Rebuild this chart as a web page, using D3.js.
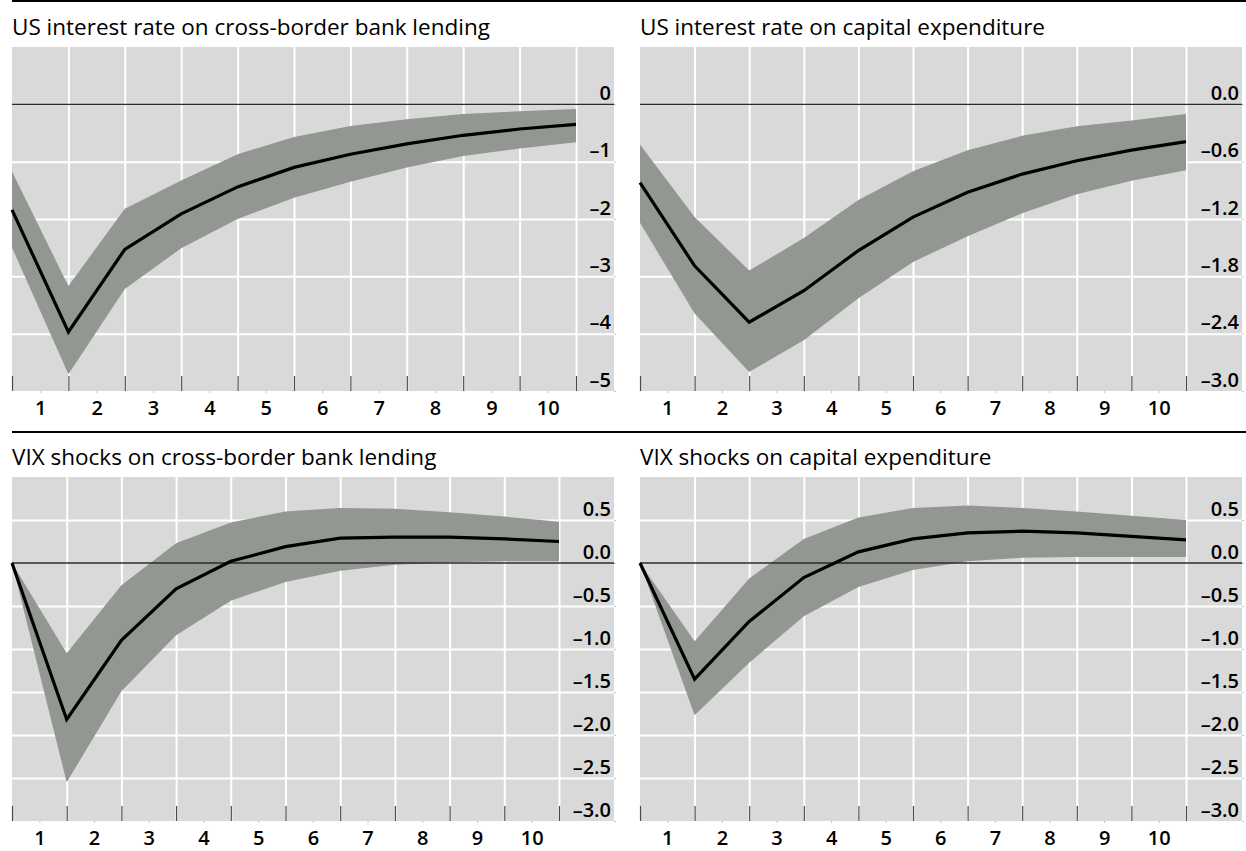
<!DOCTYPE html>
<html>
<head>
<meta charset="utf-8">
<script src="https://cdn.jsdelivr.net/npm/d3@7"></script>
<style>
  body { margin: 0; background: #fff; }
  svg { display: block; font-family: "Open Sans", "Noto Sans", sans-serif; }
</style>
</head>
<body>
<svg id="chart" width="1246" height="851"></svg>
<script>
// horizon steps (0..10) and the period labels shown between them
var steps = d3.range(0, 11);
var periodLabels = ["1", "2", "3", "4", "5", "6", "7", "8", "9", "10"];

var titles = [
  "US interest rate on cross-border bank lending",
  "US interest rate on capital expenditure",
  "VIX shocks on cross-border bank lending",
  "VIX shocks on capital expenditure"
];

// impulse responses, point estimate and confidence band
var rateBankMid = [-1.84, -3.97, -2.53, -1.91, -1.44, -1.10, -0.87, -0.69, -0.54, -0.43, -0.35];
var rateBankHi  = [-1.17, -3.17, -1.82, -1.33, -0.87, -0.57, -0.38, -0.26, -0.17, -0.12, -0.08];
var rateBankLo  = [-2.50, -4.71, -3.22, -2.51, -2.00, -1.63, -1.35, -1.10, -0.90, -0.77, -0.66];

var rateCapexMid = [-0.82, -1.69, -2.28, -1.95, -1.53, -1.18, -0.92, -0.73, -0.59, -0.48, -0.39];
var rateCapexHi  = [-0.42, -1.18, -1.74, -1.40, -1.00, -0.70, -0.48, -0.33, -0.23, -0.17, -0.10];
var rateCapexLo  = [-1.24, -2.19, -2.80, -2.47, -2.03, -1.65, -1.38, -1.14, -0.94, -0.80, -0.69];

var vixBankMid = [0, -1.82, -0.90, -0.30, 0.02, 0.19, 0.29, 0.30, 0.30, 0.28, 0.25];
var vixBankHi  = [0, -1.05, -0.26, 0.23, 0.47, 0.60, 0.64, 0.63, 0.59, 0.54, 0.48];
var vixBankLo  = [0, -2.55, -1.49, -0.84, -0.44, -0.22, -0.09, -0.02, 0.01, 0.02, 0.02];

var vixCapexMid = [0, -1.35, -0.68, -0.17, 0.13, 0.28, 0.35, 0.37, 0.35, 0.31, 0.27];
var vixCapexHi  = [0, -0.91, -0.18, 0.28, 0.53, 0.64, 0.67, 0.64, 0.60, 0.55, 0.50];
var vixCapexLo  = [0, -1.77, -1.16, -0.62, -0.28, -0.08, 0.02, 0.06, 0.07, 0.07, 0.07];

var rateBankTicks  = [0, -1, -2, -3, -4, -5];
var rateCapexTicks = [0, -0.6, -1.2, -1.8, -2.4, -3.0];
var vixTicks       = [0.5, 0, -0.5, -1.0, -1.5, -2.0, -2.5, -3.0];

var rateBankDomain  = [-5, 1];
var rateCapexDomain = [-3, 0.6];
var vixDomain       = [-3, 1];

var panels = [
  { title: titles[0], mid: rateBankMid, hi: rateBankHi, lo: rateBankLo, ticks: rateBankTicks, domain: rateBankDomain, dec: 0, left: 12, top: 47, gutter: 38 },
  { title: titles[1], mid: rateCapexMid, hi: rateCapexHi, lo: rateCapexLo, ticks: rateCapexTicks, domain: rateCapexDomain, dec: 1, left: 640, top: 47, gutter: 56 },
  { title: titles[2], mid: vixBankMid, hi: vixBankHi, lo: vixBankLo, ticks: vixTicks, domain: vixDomain, dec: 1, left: 12, top: 477, gutter: 55 },
  { title: titles[3], mid: vixCapexMid, hi: vixCapexHi, lo: vixCapexLo, ticks: vixTicks, domain: vixDomain, dec: 1, left: 640, top: 477, gutter: 56 }
];

var plotW = 602, plotH = 344;
var svg = d3.select("#chart");

var fmtNum = function(v, dec){
  var s = d3.format("." + dec + "f")(Math.abs(v));
  return v < 0 ? "\u2013" + s : s;
};

// rules above each row of panels
[1, 432].forEach(function(yy){
  svg.append("line")
    .attr("x1", 12).attr("x2", 1246)
    .attr("y1", yy).attr("y2", yy)
    .attr("stroke", "#000").attr("stroke-width", 2);
});

panels.forEach(function(p){
  var right = p.left + plotW, bottom = p.top + plotH;
  var x = d3.scaleLinear().domain([0, 10]).range([p.left, right - p.gutter]);
  var y = d3.scaleLinear().domain(p.domain).range([bottom, p.top]);
  var g = svg.append("g");

  g.append("text")
    .attr("x", p.left).attr("y", p.top - 12)
    .attr("font-size", 22.5).attr("fill", "#000")
    .text(p.title);

  g.append("rect")
    .attr("x", p.left).attr("y", p.top)
    .attr("width", plotW).attr("height", plotH)
    .attr("fill", "#d9d9d9");

  // vertical grid
  g.append("g")
    .attr("transform", "translate(0," + bottom + ")")
    .call(d3.axisBottom(x).tickValues(d3.range(1, 11)).tickSize(-plotH).tickFormat(""))
    .call(function(a){ a.select(".domain").remove(); })
    .selectAll("line").attr("stroke", "#fff").attr("stroke-width", 2);

  // horizontal grid
  var gridVals = p.ticks.filter(function(v){ return v !== 0 && v !== p.domain[0]; });
  g.append("g")
    .attr("transform", "translate(" + p.left + ",0)")
    .call(d3.axisRight(y).tickValues(gridVals).tickSize(plotW).tickFormat(""))
    .call(function(a){ a.select(".domain").remove(); })
    .selectAll("line").attr("stroke", "#fff").attr("stroke-width", 2);

  // tiny ticks outside right edge
  g.append("g")
    .attr("transform", "translate(" + right + ",0)")
    .call(d3.axisRight(y).tickValues(p.ticks).tickSize(2).tickFormat(""))
    .call(function(a){ a.select(".domain").remove(); })
    .selectAll("line").attr("stroke", "#c4c4c4");

  // tiny ticks under the labels
  g.append("g")
    .attr("transform", "translate(0," + bottom + ")")
    .call(d3.axisBottom(x).tickValues(d3.range(0.5, 10, 1)).tickSize(2).tickFormat(""))
    .call(function(a){ a.select(".domain").remove(); })
    .selectAll("line").attr("stroke", "#c4c4c4");

  var area = d3.area()
    .x(function(d, i){ return x(steps[i]); })
    .y0(function(d, i){ return y(p.lo[i]); })
    .y1(function(d, i){ return y(p.hi[i]); });

  g.append("path")
    .datum(p.mid)
    .attr("d", area)
    .attr("fill", "#929891");

  g.append("line")
    .attr("x1", p.left).attr("x2", right)
    .attr("y1", y(0)).attr("y2", y(0))
    .attr("stroke", "#2b2b2b").attr("stroke-width", 1.3);

  var line = d3.line()
    .x(function(d, i){ return x(steps[i]); })
    .y(function(d){ return y(d); });

  g.append("path")
    .datum(p.mid)
    .attr("d", line)
    .attr("fill", "none")
    .attr("stroke", "#000")
    .attr("stroke-width", 3.2)
    .attr("stroke-linejoin", "miter");

  // dark ticks along the bottom
  g.append("g")
    .attr("transform", "translate(0," + bottom + ")")
    .call(d3.axisBottom(x).tickValues(steps).tickSize(-15).tickFormat(""))
    .call(function(a){ a.select(".domain").remove(); })
    .selectAll("line").attr("stroke", "#4a4a4a").attr("stroke-width", 1.2);

  // period labels
  var xa = g.append("g")
    .attr("transform", "translate(0," + bottom + ")")
    .call(d3.axisBottom(x).tickValues(d3.range(0.5, 10, 1)).tickSize(0)
      .tickFormat(function(d){ return periodLabels[Math.floor(d)]; }))
    .call(function(a){ a.select(".domain").remove(); })
    .attr("font-family", null).attr("font-size", 20).attr("font-weight", 600);
  xa.selectAll("text").attr("dy", null).attr("y", 24).attr("fill", "#000");

  // value labels inside the right margin
  var ya = g.append("g")
    .attr("transform", "translate(" + (right - 3) + ",0)")
    .call(d3.axisLeft(y).tickValues(p.ticks).tickSize(0).tickPadding(0)
      .tickFormat(function(d){ return fmtNum(d, p.dec); }))
    .call(function(a){ a.select(".domain").remove(); })
    .attr("font-family", null).attr("font-size", 20).attr("font-weight", 600);
  ya.selectAll("text").attr("dy", null).attr("y", -5).attr("fill", "#000");
});
</script>
</body>
</html>
